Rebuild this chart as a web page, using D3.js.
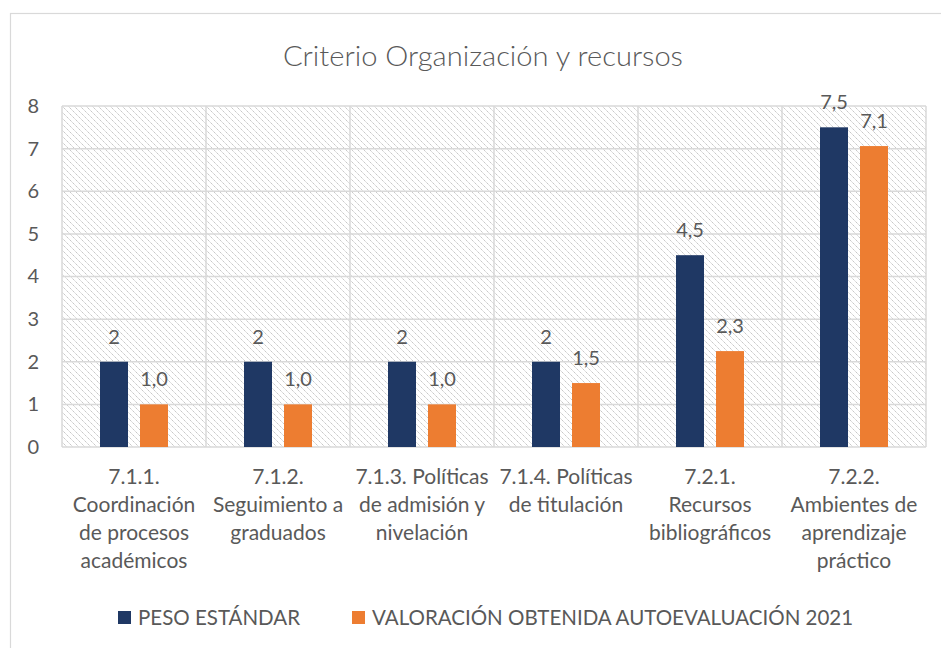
<!DOCTYPE html>
<html>
<head>
<meta charset="utf-8">
<script src="https://cdn.jsdelivr.net/npm/d3@7"></script>
<style>
  body { margin: 0; background: #fff; }
  text { font-family: Lato, "Open Sans", sans-serif; fill: #595959; }
</style>
</head>
<body>
<div id="chart"></div>
<script>
// data
var categories = ["7.1.1.", "7.1.2.", "7.1.3.", "7.1.4.", "7.2.1.", "7.2.2."];
var categoryLines = [
  ["7.1.1.", "Coordinación", "de procesos", "académicos"],
  ["7.1.2.", "Seguimiento a", "graduados"],
  ["7.1.3. Políticas", "de admisión y", "nivelación"],
  ["7.1.4. Políticas", "de titulación"],
  ["7.2.1.", "Recursos", "bibliográficos"],
  ["7.2.2.", "Ambientes de", "aprendizaje", "práctico"]
];
var pesoEstandar = [2, 2, 2, 2, 4.5, 7.5];
var valoracion = [1.0, 1.0, 1.0, 1.5, 2.25, 7.06];
var seriesNames = ["PESO ESTÁNDAR", "VALORACIÓN OBTENIDA AUTOEVALUACIÓN 2021"];
var seriesColors = ["#1f3864", "#ed7d31"];
var yTicks = [0, 1, 2, 3, 4, 5, 6, 7, 8];

var W = 941, H = 648;
var margin = { top: 106, left: 62 };
var width = 926 - margin.left;
var height = 447 - margin.top;

var svg = d3.select("#chart").append("svg")
    .attr("width", W).attr("height", H);

// chart border
svg.append("rect").attr("x", 10.5).attr("y", 13.5)
    .attr("width", W).attr("height", H)
    .attr("fill", "none").attr("stroke", "#d9d9d9").attr("stroke-width", 1.2);

// hatch pattern
var defs = svg.append("defs");
var pat = defs.append("pattern").attr("id", "hatch")
    .attr("patternUnits", "userSpaceOnUse")
    .attr("width", 6).attr("height", 6);
pat.append("path").attr("d", "M-1,-1 L7,7 M-1,5 L1,7 M5,-1 L7,1")
    .attr("stroke", "#c2c2c2").attr("stroke-width", 0.9)
    .attr("stroke-dasharray", "1.6,0.5");

svg.append("text").attr("x", 483).attr("y", 66)
    .attr("text-anchor", "middle").attr("font-size", 27)
    .attr("font-weight", 300)
    .attr("textLength", 400).attr("lengthAdjust", "spacingAndGlyphs")
    .text("Criterio Organización y recursos");

var g = svg.append("g")
    .attr("transform", "translate(" + margin.left + "," + margin.top + ")");

var x = d3.scaleBand().domain(categories).range([0, width]);
var y = d3.scaleLinear().domain([0, 8]).range([height, 0]);

g.append("rect").attr("width", width).attr("height", height)
    .attr("fill", "url(#hatch)");

// gridlines
g.selectAll(".hgrid").data(yTicks).enter().append("line")
    .attr("x1", 0).attr("x2", width)
    .attr("y1", function(d) { return y(d); })
    .attr("y2", function(d) { return y(d); })
    .attr("stroke", "#d9d9d9").attr("stroke-width", 1.5);

var vlines = categories.map(function(c) { return x(c); }).concat([width]);
g.selectAll(".vgrid").data(vlines).enter().append("line")
    .attr("x1", function(d) { return d; }).attr("x2", function(d) { return d; })
    .attr("y1", 0).attr("y2", height)
    .attr("stroke", "#d9d9d9").attr("stroke-width", 1.5);

// y axis
var yAxis = g.append("g").call(d3.axisLeft(y).tickValues(yTicks).tickSize(0).tickPadding(23));
yAxis.select(".domain").remove();
yAxis.selectAll("text").attr("font-size", 20).attr("fill", "#595959")
    .style("font-family", "Lato, sans-serif");

// bars
var barW = 28, gap = 12;
var series = [pesoEstandar, valoracion];
var fmt = [function(v) { return String(v).replace(".", ","); },
           function(v) { return v.toFixed(1).replace(".", ","); }];

series.forEach(function(vals, si) {
  var off = x.bandwidth() / 2 - (barW + gap / 2) + si * (barW + gap);
  g.selectAll(".bar" + si).data(vals).enter().append("rect")
      .attr("x", function(d, i) { return x(categories[i]) + off; })
      .attr("y", function(d) { return y(d); })
      .attr("width", barW)
      .attr("height", function(d) { return height - y(d); })
      .attr("fill", seriesColors[si]);
  g.selectAll(".lab" + si).data(vals).enter().append("text")
      .attr("x", function(d, i) { return x(categories[i]) + off + barW / 2; })
      .attr("y", function(d) { return y(d) - 18; })
      .attr("text-anchor", "middle").attr("font-size", 20)
      .text(function(d) { return fmt[si](d); });
});

// x labels
var xl = g.selectAll(".xlab").data(categoryLines).enter().append("text")
    .attr("text-anchor", "middle").attr("font-size", 21)
    .attr("transform", function(d, i) {
      return "translate(" + (x(categories[i]) + x.bandwidth() / 2) + "," + (484 - margin.top) + ")";
    });
xl.selectAll("tspan").data(function(d) { return d; }).enter().append("tspan")
    .attr("x", 0).attr("dy", function(d, i) { return i === 0 ? 0 : 28; })
    .text(function(d) { return d; });

// legend
var legX = [118, 352];
seriesNames.forEach(function(n, i) {
  svg.append("rect").attr("x", legX[i]).attr("y", 611).attr("width", 13).attr("height", 13)
      .attr("fill", seriesColors[i]);
  svg.append("text").attr("x", legX[i] + 20).attr("y", 625)
      .attr("font-size", 20.5).text(n);
});
</script>
</body>
</html>
